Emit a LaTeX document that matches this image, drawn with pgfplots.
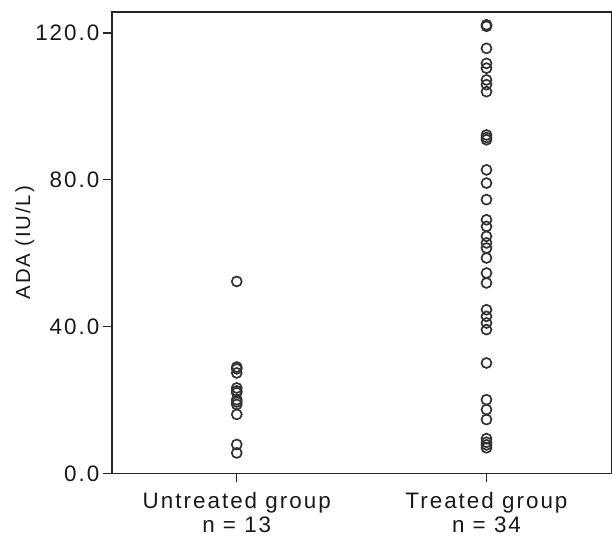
\documentclass[border=0pt]{standalone}
\usepackage{fontspec}
\setmainfont{Liberation Sans}[LetterSpace=9]
\usepackage{pgfplots}
\pgfplotsset{compat=1.18}
\begin{document}
\begin{tikzpicture}[font=\fontsize{22.5}{24}\selectfont]
\begin{axis}[
  scale only axis,
  width=500bp, height=462bp,
  xmin=-0.5, xmax=1.5,
  ymin=0, ymax=125.7,
  axis line style={line width=1.3bp, black!85},
  xtick={0,1},
  xticklabels={{Untreated group\\n = 13},{Treated group\\n = 34}},
  xticklabel style={align=center, text=black!90, yshift=-6bp},
  ytick={0,40,80,120},
  yticklabel style={text=black!90},
  tick align=outside,
  tick pos=left,
  major tick length=9bp,
  tick style={line width=1.3bp, black!85},
  /pgf/number format/.cd, fixed, fixed zerofill, precision=1, assume math mode=true,
  /pgfplots/.cd,
  ylabel={ADA (IU/L)},
  ylabel style={text=black!90, font=\fontsize{20.5}{23}\selectfont, yshift=-6bp},
  clip=false,
]
\addplot[only marks, mark=o, mark size=5bp, mark options={line width=1.7bp, draw=black!80}] coordinates {
(0,52.3) (0,29.0) (0,28.5) (0,27.4) (0,23.3) (0,22.5) (0,22.0) (0,20.1) (0,19.5) (0,18.8) (0,16.1) (0,7.9) (0,5.6)
};
\addplot[only marks, mark=o, mark size=5bp, mark options={line width=1.7bp, draw=black!80}] coordinates {
(1,122.2) (1,121.8) (1,115.8) (1,111.7) (1,110.4) (1,107.2) (1,105.9) (1,104.0) (1,92.2) (1,91.5) (1,90.9)
(1,82.7) (1,79.1) (1,74.6) (1,69.1) (1,67.3) (1,64.6) (1,62.8) (1,61.4) (1,58.7) (1,54.6) (1,51.9)
(1,44.6) (1,42.8) (1,41.0) (1,39.2) (1,30.1) (1,20.1) (1,17.4) (1,14.7) (1,9.5) (1,8.5) (1,7.8) (1,7.0)
};
\end{axis}
\path[use as bounding box] ([shift={(-112bp,-64bp)}]current axis.south west) rectangle ([shift={(0bp,12bp)}]current axis.north east);
\end{tikzpicture}
\end{document}
